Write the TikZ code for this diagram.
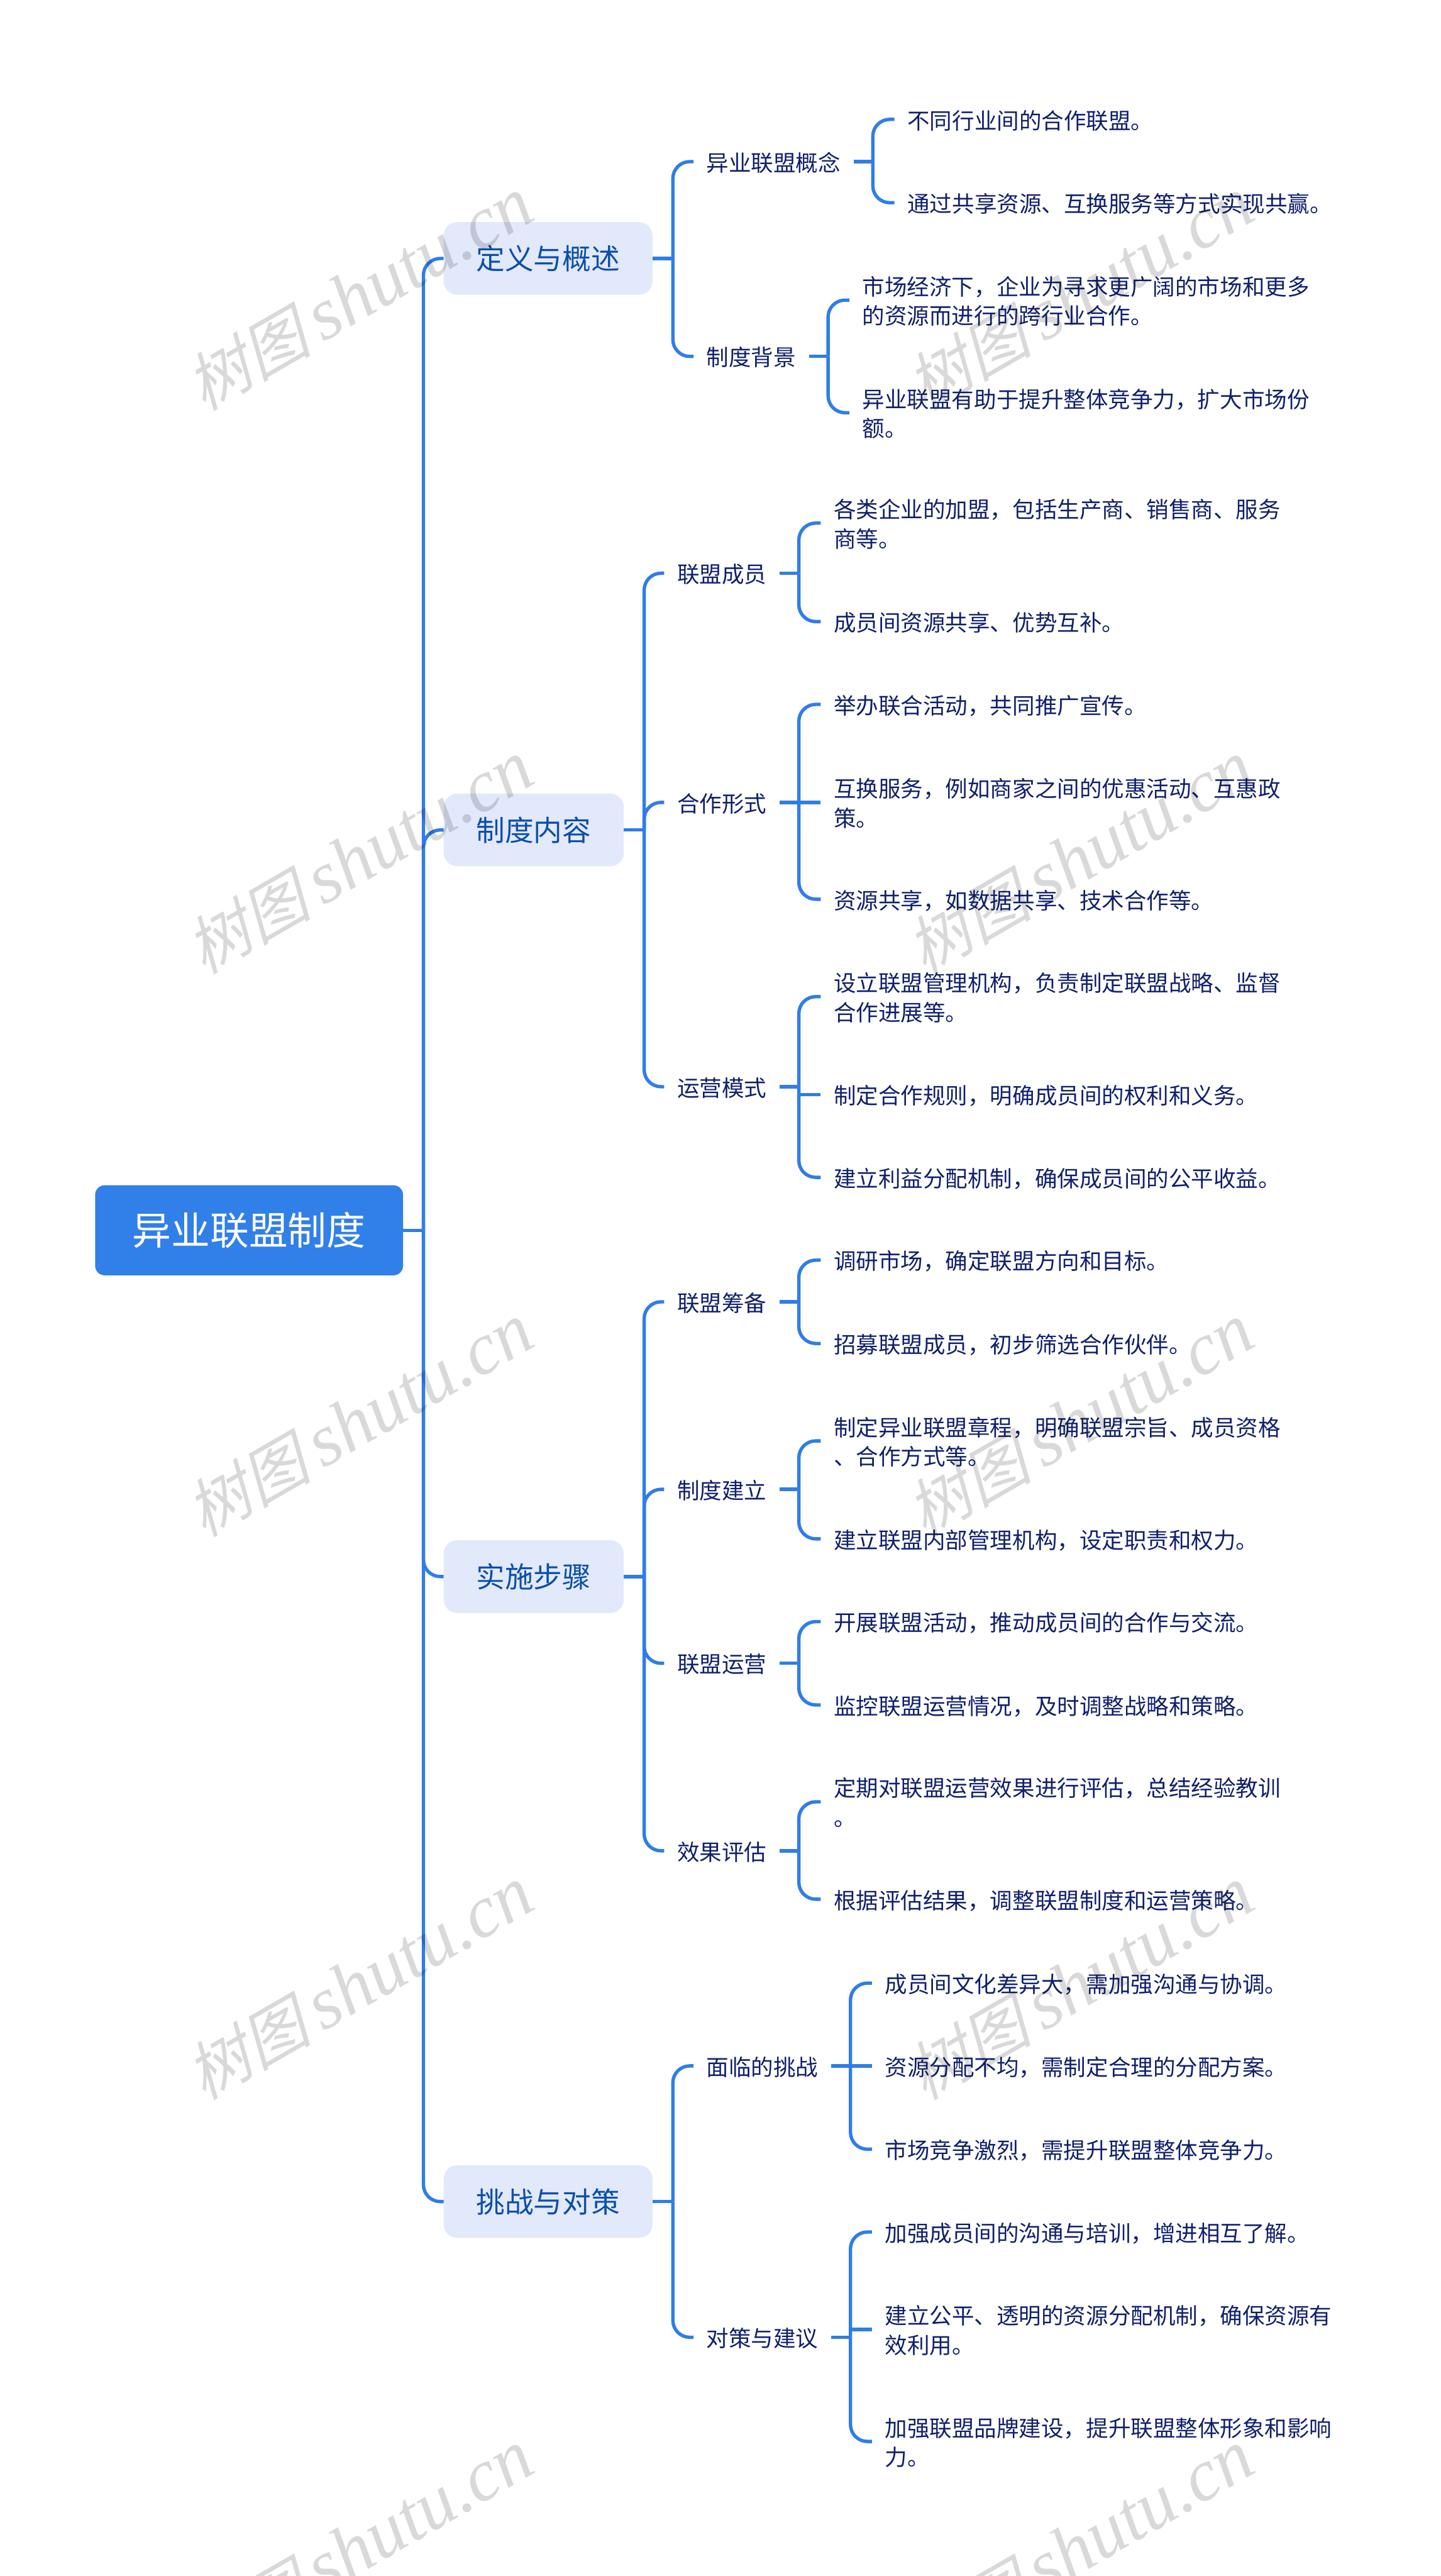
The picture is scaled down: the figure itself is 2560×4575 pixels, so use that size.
\documentclass[tikz,border=0pt]{standalone}
\usepackage{fontspec}
\setmainfont{Noto Sans CJK SC}
\newfontfamily\wmcjk[FakeSlant=0.25]{Noto Sans CJK SC}
\newfontfamily\wmlat{Liberation Serif}
\usetikzlibrary{calc}
\definecolor{linec}{HTML}{2F7DE8}
\definecolor{rootc}{HTML}{317FE9}
\definecolor{lonef}{HTML}{E2E9FB}
\definecolor{lonet}{HTML}{0C4FA8}
\definecolor{navy}{HTML}{10206B}
\newcommand\lsx{\rule[-9pt]{0pt}{52pt}}
\tikzset{
  x=1pt,y=-1pt,
  rootnode/.style={fill=rootc,text=white,rounded corners=17pt,minimum width=547pt,minimum height=160pt,inner sep=0pt,
    font=\fontsize{69}{80}\selectfont,text height=60pt,text depth=8pt},
  lone/.style={fill=lonef,text=lonet,rounded corners=24pt,minimum height=129pt,inner sep=0pt,anchor=west,
    font=\fontsize{51}{60}\selectfont,text height=45pt,text depth=6pt},
  ltwo/.style={text=navy,inner xsep=23pt,inner ysep=0pt,anchor=west,align=left,font=\fontsize{39.7}{52}\selectfont},
  leaf/.style={ltwo},
  conn/.style={draw=linec,line width=6pt},
  rc/.style={conn,rounded corners=30pt},
  wm/.style={rotate=30,text=black,text opacity=0.15,inner sep=0pt},
}
\begin{document}
\begin{tikzpicture}
\useasboundingbox (0,0) rectangle (2560,4575);
\fill[white] (0,0) rectangle (2560,4575);

\node[rootnode] (root) at (442.5,2185) {异业联盟制度};
\coordinate (hroot) at ($(root.east)+(36,0)$);
\draw[conn] (root.east) -- (hroot);

% level 1
\node[lone,minimum width=371pt] (a) at (788,459) {定义与概述};
\node[lone,minimum width=320pt] (b) at (788,1474) {制度内容};
\node[lone,minimum width=320pt] (c) at (788,2800) {实施步骤};
\node[lone,minimum width=371pt] (d) at (788,3910) {挑战与对策};
\foreach \n in {a,b,c,d}{
  \draw[rc] (hroot) |- (\n.west);
  \coordinate (h\n) at ($(\n.east)+(36,0)$);
  \draw[conn] (\n.east) -- (h\n);
}

% level 2
\node[ltwo] (a1) at (1232,287) {\lsx 异业联盟概念};
\node[ltwo] (a2) at (1232,633) {\lsx 制度背景};
\node[ltwo] (b1) at (1180,1018) {\lsx 联盟成员};
\node[ltwo] (b2) at (1180,1425) {\lsx 合作形式};
\node[ltwo] (b3) at (1180,1930) {\lsx 运营模式};
\node[ltwo] (c1) at (1180,2312) {\lsx 联盟筹备};
\node[ltwo] (c2) at (1180,2645) {\lsx 制度建立};
\node[ltwo] (c3) at (1180,2954) {\lsx 联盟运营};
\node[ltwo] (c4) at (1180,3287) {\lsx 效果评估};
\node[ltwo] (d1) at (1232,3669) {\lsx 面临的挑战};
\node[ltwo] (d2) at (1232,4151) {\lsx 对策与建议};
\foreach \p/\n in {a/a1,a/a2,b/b1,b/b2,b/b3,c/c1,c/c2,c/c3,c/c4,d/d1,d/d2}{
  \draw[rc] (h\p) |- (\n.west);
  \coordinate (h\n) at ($(\n.east)+(34,0)$);
  \draw[conn] (\n.east) -- (h\n);
}

% leaves
\node[leaf] (a1a) at (1589,212) {\lsx 不同行业间的合作联盟。};
\node[leaf] (a1b) at (1589,360) {\lsx 通过共享资源、互换服务等方式实现共赢。};
\node[leaf] (a2a) at (1509,533) {\lsx 市场经济下，企业为寻求更广阔的市场和更多\\\lsx 的资源而进行的跨行业合作。};
\node[leaf] (a2b) at (1509,733) {\lsx 异业联盟有助于提升整体竞争力，扩大市场份\\\lsx 额。};
\node[leaf] (b1a) at (1458,929) {\lsx 各类企业的加盟，包括生产商、销售商、服务\\\lsx 商等。};
\node[leaf] (b1b) at (1458,1104) {\lsx 成员间资源共享、优势互补。};
\node[leaf] (b2a) at (1458,1251) {\lsx 举办联合活动，共同推广宣传。};
\node[leaf] (b2b) at (1458,1425) {\lsx 互换服务，例如商家之间的优惠活动、互惠政\\\lsx 策。};
\node[leaf] (b2c) at (1458,1597) {\lsx 资源共享，如数据共享、技术合作等。};
\node[leaf] (b3a) at (1458,1770) {\lsx 设立联盟管理机构，负责制定联盟战略、监督\\\lsx 合作进展等。};
\node[leaf] (b3b) at (1458,1944) {\lsx 制定合作规则，明确成员间的权利和义务。};
\node[leaf] (b3c) at (1458,2091) {\lsx 建立利益分配机制，确保成员间的公平收益。};
\node[leaf] (c1a) at (1458,2238) {\lsx 调研市场，确定联盟方向和目标。};
\node[leaf] (c1b) at (1458,2386) {\lsx 招募联盟成员，初步筛选合作伙伴。};
\node[leaf] (c2a) at (1458,2559) {\lsx 制定异业联盟章程，明确联盟宗旨、成员资格\\\lsx 、合作方式等。};
\node[leaf] (c2b) at (1458,2733) {\lsx 建立联盟内部管理机构，设定职责和权力。};
\node[leaf] (c3a) at (1458,2880) {\lsx 开展联盟活动，推动成员间的合作与交流。};
\node[leaf] (c3b) at (1458,3028) {\lsx 监控联盟运营情况，及时调整战略和策略。};
\node[leaf] (c4a) at (1458,3200) {\lsx 定期对联盟运营效果进行评估，总结经验教训\\\lsx 。};
\node[leaf] (c4b) at (1458,3373) {\lsx 根据评估结果，调整联盟制度和运营策略。};
\node[leaf] (d1a) at (1549,3522) {\lsx 成员间文化差异大，需加强沟通与协调。};
\node[leaf] (d1b) at (1549,3669) {\lsx 资源分配不均，需制定合理的分配方案。};
\node[leaf] (d1c) at (1549,3817) {\lsx 市场竞争激烈，需提升联盟整体竞争力。};
\node[leaf] (d2a) at (1549,3964) {\lsx 加强成员间的沟通与培训，增进相互了解。};
\node[leaf] (d2b) at (1549,4137) {\lsx 建立公平、透明的资源分配机制，确保资源有\\\lsx 效利用。};
\node[leaf] (d2c) at (1549,4336) {\lsx 加强联盟品牌建设，提升联盟整体形象和影响\\\lsx 力。};

\foreach \p/\n in {a1/a1a,a1/a1b,a2/a2a,a2/a2b,b1/b1a,b1/b1b,b2/b2a,b2/b2c,b3/b3a,b3/b3c,
  c1/c1a,c1/c1b,c2/c2a,c2/c2b,c3/c3a,c3/c3b,c4/c4a,c4/c4b,d1/d1a,d1/d1c,d2/d2a,d2/d2c}{
  \draw[rc] (h\p) |- (\n.west);
}
% children almost level with the parent: straight stubs
\foreach \p/\n in {b2/b2b,b3/b3b,d1/d1b,d2/d2b}{
  \draw[conn] (h\p) -- (h\p |- \n.west) -- (\n.west);
}

% watermark
\begin{scope}
\clip (0,0) rectangle (2560,4575);
\foreach \i/\px/\py in {1/638/523,2/638/1523,3/638/2523,4/638/3523,5/638/4523,
  6/1918/523,7/1918/1523,8/1918/2523,9/1918/3523,10/1918/4523}{
  \node[wm] (wm\i) at (\px,\py) {{\fontsize{112}{130}\selectfont\wmcjk 树图}\hspace*{22pt}{\fontsize{131}{140}\selectfont\wmlat\itshape shutu.cn}};
}
\end{scope}
\end{tikzpicture}
\end{document}
